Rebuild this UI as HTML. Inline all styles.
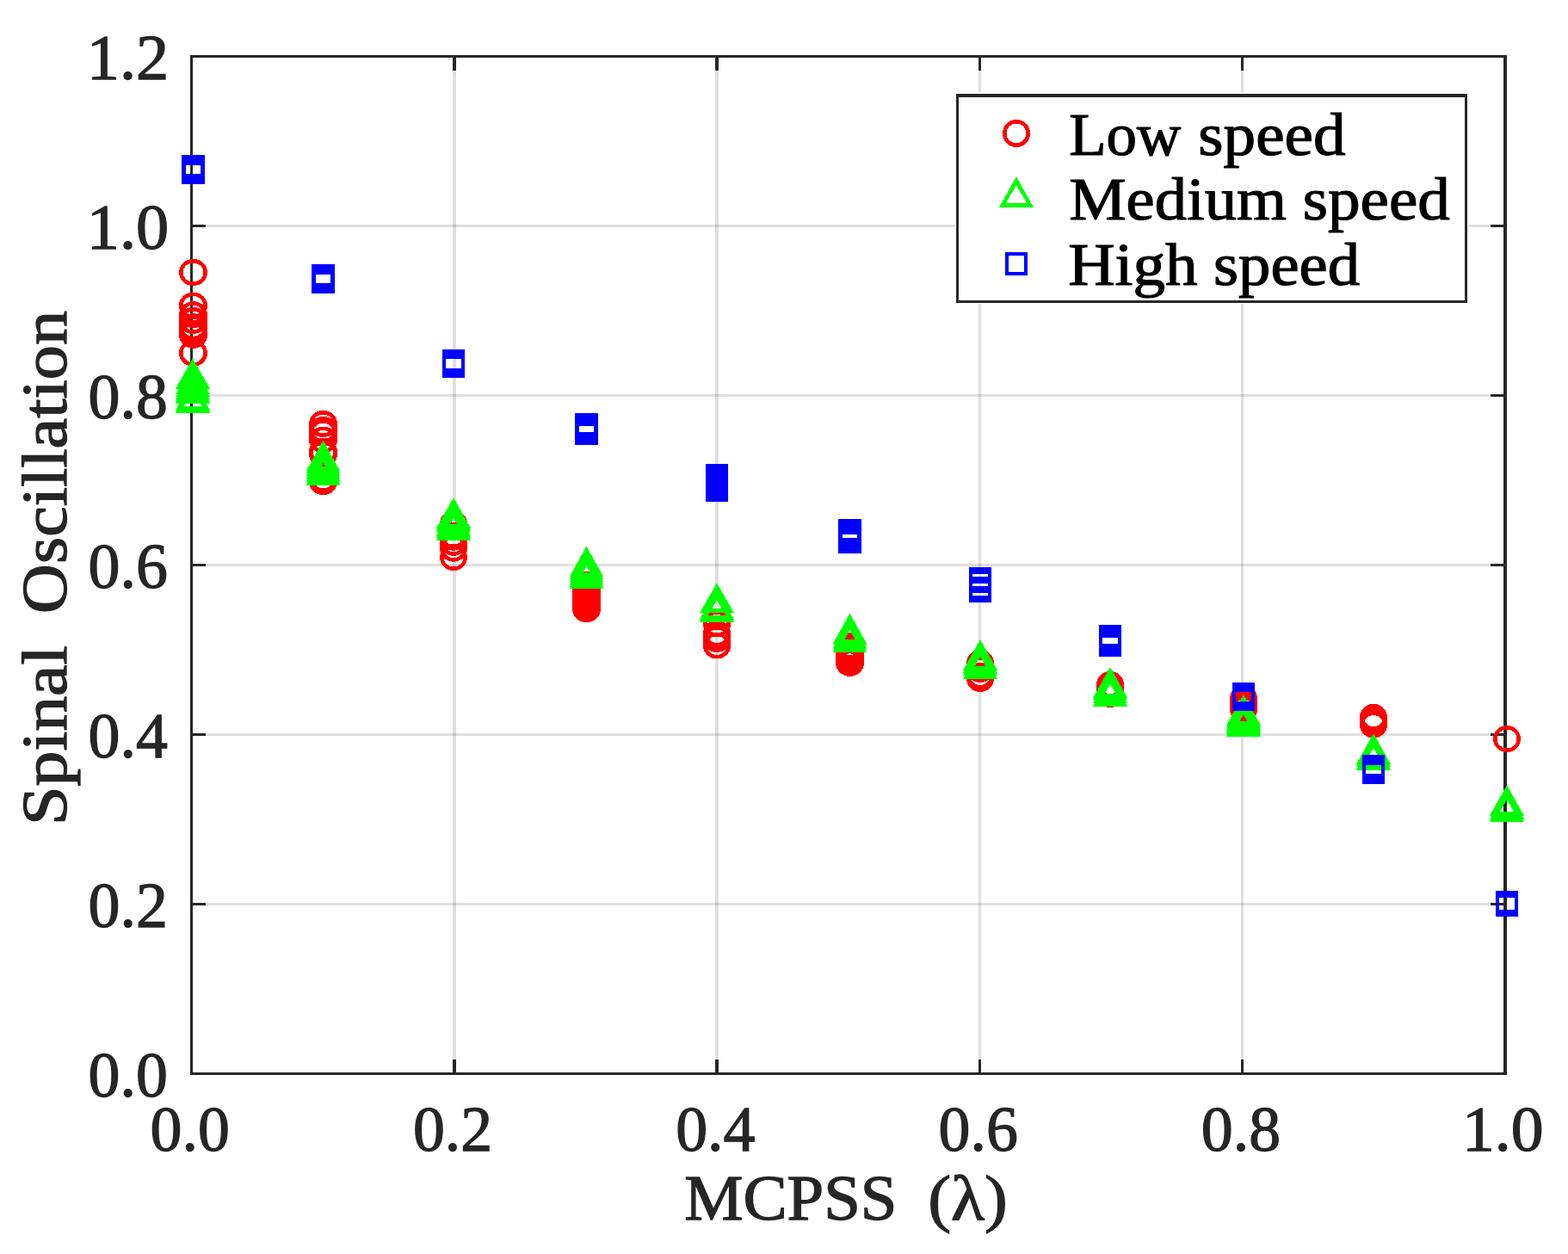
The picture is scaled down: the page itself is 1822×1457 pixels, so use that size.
<!DOCTYPE html>
<html lang="en"><head><meta charset="utf-8"><title>Spinal Oscillation vs MCPSS</title>
<style>html,body{margin:0;padding:0;background:#fff;}svg{display:block;}text{font-family:"Liberation Serif","DejaVu Serif",serif;}.tk{font-size:74.5px;fill:#262626;stroke:#262626;stroke-width:1.3px;}.lg{font-size:69.5px;fill:#000;stroke:#000;stroke-width:1.2px;}.lb{font-size:74px;fill:#262626;stroke:#262626;stroke-width:1.3px;}</style></head><body>
<svg width="1822" height="1457" viewBox="0 0 1822 1457">
<rect x="0" y="0" width="1822" height="1457" fill="#ffffff"/>
<g shape-rendering="crispEdges">
<g fill="#262626" fill-opacity="0.15">
<rect x="526" y="67" width="4" height="1179"/>
<rect x="831" y="67" width="4" height="1179"/>
<rect x="1137" y="67" width="3" height="1179"/>
<rect x="1442" y="67" width="3" height="1179"/>
<rect x="224" y="1049" width="1523" height="3"/>
<rect x="224" y="852" width="1523" height="3"/>
<rect x="224" y="655" width="1523" height="3"/>
<rect x="224" y="458" width="1523" height="3"/>
<rect x="224" y="261" width="1523" height="3"/>
</g>
<g fill="#262626">
<rect x="221" y="64" width="3" height="1185"/>
<rect x="1747" y="64" width="4" height="1185"/>
<rect x="221" y="64" width="1530" height="3"/>
<rect x="221" y="1246" width="1530" height="3"/>
<rect x="526" y="67" width="4" height="15"/>
<rect x="526" y="1231" width="4" height="15"/>
<rect x="831" y="67" width="4" height="15"/>
<rect x="831" y="1231" width="4" height="15"/>
<rect x="1137" y="67" width="3" height="15"/>
<rect x="1137" y="1231" width="3" height="15"/>
<rect x="1442" y="67" width="3" height="15"/>
<rect x="1442" y="1231" width="3" height="15"/>
<rect x="224" y="1049" width="15" height="3"/>
<rect x="1732" y="1049" width="15" height="3"/>
<rect x="224" y="852" width="15" height="3"/>
<rect x="1732" y="852" width="15" height="3"/>
<rect x="224" y="655" width="15" height="3"/>
<rect x="1732" y="655" width="15" height="3"/>
<rect x="224" y="458" width="15" height="3"/>
<rect x="1732" y="458" width="15" height="3"/>
<rect x="224" y="261" width="15" height="3"/>
<rect x="1732" y="261" width="15" height="3"/>
</g>
</g>
<g shape-rendering="crispEdges">
<g fill="none" stroke="#ff0000" stroke-width="4.6">
<ellipse cx="224.5" cy="316.5" rx="14.20" ry="13.2"/>
<ellipse cx="224.5" cy="355.0" rx="14.20" ry="13.2"/>
<ellipse cx="224.5" cy="365.7" rx="14.20" ry="13.2"/>
<ellipse cx="224.5" cy="372.5" rx="14.20" ry="13.2"/>
<ellipse cx="224.5" cy="379.7" rx="14.20" ry="13.2"/>
<ellipse cx="224.5" cy="382.0" rx="14.20" ry="13.2"/>
<ellipse cx="224.5" cy="387.2" rx="14.20" ry="13.2"/>
<ellipse cx="224.5" cy="388.5" rx="14.20" ry="13.2"/>
<ellipse cx="224.5" cy="389.3" rx="14.20" ry="13.2"/>
<ellipse cx="224.5" cy="410.3" rx="14.20" ry="13.2"/>
<ellipse cx="375.5" cy="492.5" rx="14.20" ry="13.2"/>
<ellipse cx="375.5" cy="499.5" rx="14.20" ry="13.2"/>
<ellipse cx="375.5" cy="502.7" rx="14.20" ry="13.2"/>
<ellipse cx="375.5" cy="511.0" rx="14.20" ry="13.2"/>
<ellipse cx="375.5" cy="524.5" rx="14.20" ry="13.2"/>
<ellipse cx="375.5" cy="527.6" rx="14.20" ry="13.2"/>
<ellipse cx="375.5" cy="556.3" rx="14.20" ry="13.2"/>
<ellipse cx="375.5" cy="559.5" rx="14.20" ry="13.2"/>
<ellipse cx="527.0" cy="608.5" rx="13.70" ry="13.2"/>
<ellipse cx="527.0" cy="612.0" rx="13.70" ry="13.2"/>
<ellipse cx="527.0" cy="622.0" rx="13.70" ry="13.2"/>
<ellipse cx="527.0" cy="624.2" rx="13.70" ry="13.2"/>
<ellipse cx="527.0" cy="630.3" rx="13.70" ry="13.2"/>
<ellipse cx="527.0" cy="637.2" rx="13.70" ry="13.2"/>
<ellipse cx="527.0" cy="647.5" rx="13.70" ry="13.2"/>
<ellipse cx="681.5" cy="679.2" rx="14.20" ry="13.2"/>
<ellipse cx="681.5" cy="686.4" rx="14.20" ry="13.2"/>
<ellipse cx="681.5" cy="691.0" rx="14.20" ry="13.2"/>
<ellipse cx="681.5" cy="695.5" rx="14.20" ry="13.2"/>
<ellipse cx="681.5" cy="700.0" rx="14.20" ry="13.2"/>
<ellipse cx="681.5" cy="704.0" rx="14.20" ry="13.2"/>
<ellipse cx="681.5" cy="707.7" rx="14.20" ry="13.2"/>
<ellipse cx="833.0" cy="724.8" rx="13.70" ry="13.2"/>
<ellipse cx="833.0" cy="736.1" rx="13.70" ry="13.2"/>
<ellipse cx="833.0" cy="739.0" rx="13.70" ry="13.2"/>
<ellipse cx="833.0" cy="742.4" rx="13.70" ry="13.2"/>
<ellipse cx="833.0" cy="750.0" rx="13.70" ry="13.2"/>
<ellipse cx="987.5" cy="750.1" rx="14.20" ry="13.2"/>
<ellipse cx="987.5" cy="754.0" rx="14.20" ry="13.2"/>
<ellipse cx="987.5" cy="758.0" rx="14.20" ry="13.2"/>
<ellipse cx="987.5" cy="762.0" rx="14.20" ry="13.2"/>
<ellipse cx="987.5" cy="766.0" rx="14.20" ry="13.2"/>
<ellipse cx="987.5" cy="770.3" rx="14.20" ry="13.2"/>
<ellipse cx="1139.0" cy="770.4" rx="13.70" ry="13.2"/>
<ellipse cx="1139.0" cy="777.6" rx="13.70" ry="13.2"/>
<ellipse cx="1139.0" cy="785.0" rx="13.70" ry="13.2"/>
<ellipse cx="1139.0" cy="788.5" rx="13.70" ry="13.2"/>
<ellipse cx="1290.0" cy="795.4" rx="13.70" ry="13.2"/>
<ellipse cx="1290.0" cy="800.0" rx="13.70" ry="13.2"/>
<ellipse cx="1290.0" cy="803.0" rx="13.70" ry="13.2"/>
<ellipse cx="1290.0" cy="806.5" rx="13.70" ry="13.2"/>
<ellipse cx="1445.0" cy="811.8" rx="13.70" ry="13.2"/>
<ellipse cx="1445.0" cy="816.0" rx="13.70" ry="13.2"/>
<ellipse cx="1445.0" cy="820.0" rx="13.70" ry="13.2"/>
<ellipse cx="1445.0" cy="824.0" rx="13.70" ry="13.2"/>
<ellipse cx="1596.0" cy="833.3" rx="13.70" ry="13.2"/>
<ellipse cx="1596.0" cy="836.0" rx="13.70" ry="13.2"/>
<ellipse cx="1596.0" cy="839.0" rx="13.70" ry="13.2"/>
<ellipse cx="1596.0" cy="842.0" rx="13.70" ry="13.2"/>
<ellipse cx="1751.0" cy="858.5" rx="13.70" ry="13.2"/>
</g>
<g fill="#00ff00" fill-rule="evenodd" stroke="none">
<path d="M204.0 451.5L244.0 451.5L224.0 416.4Z M211.8 446.5L236.2 446.5L224.0 426.7Z"/>
<path d="M204.0 458.3L244.0 458.3L224.0 422.3Z M211.8 453.3L236.2 453.3L224.0 432.6Z"/>
<path d="M204.0 461.3L244.0 461.3L224.0 425.3Z M211.8 456.3L236.2 456.3L224.0 435.6Z"/>
<path d="M204.0 464.4L244.0 464.4L224.0 428.4Z M211.8 459.4L236.2 459.4L224.0 438.7Z"/>
<path d="M204.0 466.5L244.0 466.5L224.0 430.5Z M211.8 461.5L236.2 461.5L224.0 440.8Z"/>
<path d="M204.0 468.8L244.0 468.8L224.0 432.8Z M211.8 463.8L236.2 463.8L224.0 443.1Z"/>
<path d="M204.0 476.8L244.0 476.8L224.0 440.8Z M211.8 471.8L236.2 471.8L224.0 451.1Z"/>
<path d="M204.0 478.5L244.0 478.5L224.0 442.5Z M211.8 473.5L236.2 473.5L224.0 452.8Z"/>
<path d="M204.0 480.0L244.0 480.0L224.0 444.0Z M211.8 475.0L236.2 475.0L224.0 454.3Z"/>
<path d="M356.0 547.0L395.0 547.0L375.5 511.8Z M363.8 542.0L387.2 542.0L375.5 521.3Z"/>
<path d="M356.0 550.0L395.0 550.0L375.5 514.8Z M363.8 545.0L387.2 545.0L375.5 524.3Z"/>
<path d="M356.0 553.0L395.0 553.0L375.5 517.8Z M363.8 548.0L387.2 548.0L375.5 527.3Z"/>
<path d="M356.0 556.0L395.0 556.0L375.5 520.8Z M363.8 551.0L387.2 551.0L375.5 530.3Z"/>
<path d="M356.0 559.0L395.0 559.0L375.5 523.8Z M363.8 554.0L387.2 554.0L375.5 533.3Z"/>
<path d="M356.0 562.0L395.0 562.0L375.5 526.8Z M363.8 557.0L387.2 557.0L375.5 536.3Z"/>
<path d="M356.0 564.0L395.0 564.0L375.5 528.8Z M363.8 559.0L387.2 559.0L375.5 538.3Z"/>
<path d="M507.0 613.9L547.0 613.9L527.0 577.9Z M514.8 608.9L539.2 608.9L527.0 588.2Z"/>
<path d="M507.0 616.7L547.0 616.7L527.0 580.7Z M514.8 611.7L539.2 611.7L527.0 591.0Z"/>
<path d="M507.0 619.4L547.0 619.4L527.0 583.4Z M514.8 614.4L539.2 614.4L527.0 593.7Z"/>
<path d="M507.0 622.8L547.0 622.8L527.0 586.8Z M514.8 617.8L539.2 617.8L527.0 597.1Z"/>
<path d="M507.0 624.9L547.0 624.9L527.0 588.9Z M514.8 619.9L539.2 619.9L527.0 599.2Z"/>
<path d="M507.0 628.0L547.0 628.0L527.0 592.0Z M514.8 623.0L539.2 623.0L527.0 602.3Z"/>
<path d="M662.0 669.8L701.0 669.8L681.5 634.6Z M669.8 664.8L693.2 664.8L681.5 644.1Z"/>
<path d="M662.0 673.0L701.0 673.0L681.5 637.8Z M669.8 668.0L693.2 668.0L681.5 647.3Z"/>
<path d="M662.0 676.0L701.0 676.0L681.5 640.8Z M669.8 671.0L693.2 671.0L681.5 650.3Z"/>
<path d="M662.0 679.0L701.0 679.0L681.5 643.8Z M669.8 674.0L693.2 674.0L681.5 653.3Z"/>
<path d="M662.0 682.0L701.0 682.0L681.5 646.8Z M669.8 677.0L693.2 677.0L681.5 656.3Z"/>
<path d="M662.0 683.8L701.0 683.8L681.5 648.6Z M669.8 678.8L693.2 678.8L681.5 658.1Z"/>
<path d="M813.0 712.3L853.0 712.3L833.0 677.3Z M820.8 707.3L845.2 707.3L833.0 687.6Z"/>
<path d="M813.0 720.0L853.0 720.0L833.0 684.0Z M820.8 715.0L845.2 715.0L833.0 694.3Z"/>
<path d="M813.0 723.0L853.0 723.0L833.0 687.0Z M820.8 718.0L845.2 718.0L833.0 697.3Z"/>
<path d="M968.0 747.7L1007.0 747.7L987.5 712.5Z M975.8 742.7L999.2 742.7L987.5 722.0Z"/>
<path d="M968.0 749.4L1007.0 749.4L987.5 714.2Z M975.8 744.4L999.2 744.4L987.5 723.7Z"/>
<path d="M968.0 752.8L1007.0 752.8L987.5 717.6Z M975.8 747.8L999.2 747.8L987.5 727.1Z"/>
<path d="M968.0 754.9L1007.0 754.9L987.5 719.7Z M975.8 749.9L999.2 749.9L987.5 729.2Z"/>
<path d="M968.0 758.0L1007.0 758.0L987.5 722.8Z M975.8 753.0L999.2 753.0L987.5 732.3Z"/>
<path d="M1119.0 778.9L1159.0 778.9L1139.0 742.9Z M1126.8 773.9L1151.2 773.9L1139.0 753.2Z"/>
<path d="M1119.0 781.5L1159.0 781.5L1139.0 745.5Z M1126.8 776.5L1151.2 776.5L1139.0 755.8Z"/>
<path d="M1119.0 785.0L1159.0 785.0L1139.0 749.0Z M1126.8 780.0L1151.2 780.0L1139.0 759.3Z"/>
<path d="M1119.0 788.9L1159.0 788.9L1139.0 752.9Z M1126.8 783.9L1151.2 783.9L1139.0 763.2Z"/>
<path d="M1270.0 810.9L1310.0 810.9L1290.0 774.9Z M1277.8 805.9L1302.2 805.9L1290.0 785.2Z"/>
<path d="M1270.0 813.0L1310.0 813.0L1290.0 777.0Z M1277.8 808.0L1302.2 808.0L1290.0 787.3Z"/>
<path d="M1270.0 817.0L1310.0 817.0L1290.0 781.0Z M1277.8 812.0L1302.2 812.0L1290.0 791.3Z"/>
<path d="M1270.0 820.9L1310.0 820.9L1290.0 784.9Z M1277.8 815.9L1302.2 815.9L1290.0 795.2Z"/>
<path d="M1425.0 842.9L1465.0 842.9L1445.0 806.9Z M1432.8 837.9L1457.2 837.9L1445.0 817.2Z"/>
<path d="M1425.0 845.0L1465.0 845.0L1445.0 809.0Z M1432.8 840.0L1457.2 840.0L1445.0 819.3Z"/>
<path d="M1425.0 847.5L1465.0 847.5L1445.0 811.5Z M1432.8 842.5L1457.2 842.5L1445.0 821.8Z"/>
<path d="M1425.0 849.5L1465.0 849.5L1445.0 813.5Z M1432.8 844.5L1457.2 844.5L1445.0 823.8Z"/>
<path d="M1425.0 851.7L1465.0 851.7L1445.0 815.7Z M1432.8 846.7L1457.2 846.7L1445.0 826.0Z"/>
<path d="M1425.0 853.7L1465.0 853.7L1445.0 817.7Z M1432.8 848.7L1457.2 848.7L1445.0 828.0Z"/>
<path d="M1425.0 855.9L1465.0 855.9L1445.0 819.9Z M1432.8 850.9L1457.2 850.9L1445.0 830.2Z"/>
<path d="M1576.0 888.0L1616.0 888.0L1596.0 852.0Z M1583.8 883.0L1608.2 883.0L1596.0 862.3Z"/>
<path d="M1576.0 891.0L1616.0 891.0L1596.0 855.0Z M1583.8 886.0L1608.2 886.0L1596.0 865.3Z"/>
<path d="M1576.0 894.9L1616.0 894.9L1596.0 858.9Z M1583.8 889.9L1608.2 889.9L1596.0 869.2Z"/>
<path d="M1731.0 948.0L1771.0 948.0L1751.0 912.0Z M1738.8 943.0L1763.2 943.0L1751.0 922.3Z"/>
<path d="M1731.0 952.0L1771.0 952.0L1751.0 916.0Z M1738.8 947.0L1763.2 947.0L1751.0 926.3Z"/>
<path d="M1731.0 955.0L1771.0 955.0L1751.0 919.0Z M1738.8 950.0L1763.2 950.0L1751.0 929.3Z"/>
</g>
<g fill="none" stroke="#0000ff" stroke-width="4">
<rect x="213.0" y="182.0" width="22" height="22"/>
<rect x="214.0" y="182.0" width="22" height="22"/>
<rect x="213.0" y="186.0" width="22" height="22"/>
<rect x="214.0" y="186.0" width="22" height="22"/>
<rect x="213.0" y="190.0" width="22" height="22"/>
<rect x="214.0" y="190.0" width="22" height="22"/>
<rect x="364.0" y="309.0" width="22" height="22"/>
<rect x="365.0" y="309.0" width="22" height="22"/>
<rect x="364.0" y="313.0" width="22" height="22"/>
<rect x="365.0" y="313.0" width="22" height="22"/>
<rect x="364.0" y="317.0" width="22" height="22"/>
<rect x="365.0" y="317.0" width="22" height="22"/>
<rect x="516.0" y="408.0" width="22" height="22"/>
<rect x="516.0" y="412.0" width="22" height="22"/>
<rect x="516.0" y="415.0" width="22" height="22"/>
<rect x="670.0" y="482.0" width="22" height="22"/>
<rect x="671.0" y="482.0" width="22" height="22"/>
<rect x="670.0" y="486.0" width="22" height="22"/>
<rect x="671.0" y="486.0" width="22" height="22"/>
<rect x="670.0" y="490.0" width="22" height="22"/>
<rect x="671.0" y="490.0" width="22" height="22"/>
<rect x="670.0" y="493.0" width="22" height="22"/>
<rect x="671.0" y="493.0" width="22" height="22"/>
<rect x="822.0" y="541.0" width="22" height="22"/>
<rect x="822.0" y="545.0" width="22" height="22"/>
<rect x="822.0" y="549.0" width="22" height="22"/>
<rect x="822.0" y="553.0" width="22" height="22"/>
<rect x="822.0" y="557.0" width="22" height="22"/>
<rect x="822.0" y="559.0" width="22" height="22"/>
<rect x="976.0" y="605.0" width="22" height="22"/>
<rect x="977.0" y="605.0" width="22" height="22"/>
<rect x="976.0" y="609.0" width="22" height="22"/>
<rect x="977.0" y="609.0" width="22" height="22"/>
<rect x="976.0" y="613.0" width="22" height="22"/>
<rect x="977.0" y="613.0" width="22" height="22"/>
<rect x="976.0" y="617.0" width="22" height="22"/>
<rect x="977.0" y="617.0" width="22" height="22"/>
<rect x="976.0" y="619.0" width="22" height="22"/>
<rect x="977.0" y="619.0" width="22" height="22"/>
<rect x="1128.0" y="661.0" width="22" height="22"/>
<rect x="1128.0" y="665.0" width="22" height="22"/>
<rect x="1128.0" y="672.0" width="22" height="22"/>
<rect x="1128.0" y="676.0" width="22" height="22"/>
<rect x="1279.0" y="728.0" width="22" height="22"/>
<rect x="1279.0" y="732.0" width="22" height="22"/>
<rect x="1279.0" y="736.0" width="22" height="22"/>
<rect x="1279.0" y="739.0" width="22" height="22"/>
<rect x="1434.0" y="795.0" width="22" height="22"/>
<rect x="1434.0" y="799.0" width="22" height="22"/>
<rect x="1434.0" y="802.0" width="22" height="22"/>
<rect x="1585.0" y="879.0" width="22" height="22"/>
<rect x="1585.0" y="883.0" width="22" height="22"/>
<rect x="1585.0" y="887.0" width="22" height="22"/>
<rect x="1740.0" y="1037.0" width="22" height="22"/>
<rect x="1740.0" y="1041.0" width="22" height="22"/>
</g>
</g>
<g shape-rendering="crispEdges"><rect x="1110" y="108" width="596" height="245" fill="#ffffff"/><rect x="1111" y="109" width="594" height="243" fill="#262626"/><rect x="1114" y="113" width="588" height="236" fill="#ffffff"/></g>
<g shape-rendering="crispEdges">
<circle cx="1181" cy="155" r="13.7" fill="none" stroke="#ff0000" stroke-width="4.6"/>
<g fill="#00ff00" fill-rule="evenodd"><path d="M1161.0 241.0L1201.0 241.0L1181.0 205.0Z M1168.8 236.0L1193.2 236.0L1181.0 215.3Z"/></g>
<rect x="1170" y="295" width="22" height="23" fill="none" stroke="#0000ff" stroke-width="4"/>
</g>
<text class="lg" y="180.0"><tspan x="1242.3" textLength="130.0" lengthAdjust="spacingAndGlyphs">Low</tspan><tspan> </tspan><tspan x="1392.3" textLength="171.2" lengthAdjust="spacingAndGlyphs">speed</tspan></text>
<text class="lg" y="255.4"><tspan x="1242.3" textLength="252.6" lengthAdjust="spacingAndGlyphs">Medium</tspan><tspan> </tspan><tspan x="1513.8" textLength="171.0" lengthAdjust="spacingAndGlyphs">speed</tspan></text>
<text class="lg" y="331.0"><tspan x="1241.3" textLength="150.2" lengthAdjust="spacingAndGlyphs">High</tspan><tspan> </tspan><tspan x="1410.0" textLength="170.0" lengthAdjust="spacingAndGlyphs">speed</tspan></text>
<text class="tk" x="102.6" y="1274.1" text-anchor="start" textLength="92.3" lengthAdjust="spacingAndGlyphs">0.0</text>
<text class="tk" x="102.6" y="1077.1" text-anchor="start" textLength="92.3" lengthAdjust="spacingAndGlyphs">0.2</text>
<text class="tk" x="102.6" y="880.1" text-anchor="start" textLength="92.3" lengthAdjust="spacingAndGlyphs">0.4</text>
<text class="tk" x="102.6" y="683.1" text-anchor="start" textLength="92.3" lengthAdjust="spacingAndGlyphs">0.6</text>
<text class="tk" x="102.6" y="486.1" text-anchor="start" textLength="92.3" lengthAdjust="spacingAndGlyphs">0.8</text>
<text class="tk" x="100.8" y="289.1" text-anchor="start" textLength="95.4" lengthAdjust="spacingAndGlyphs">1.0</text>
<text class="tk" x="100.8" y="92.1" text-anchor="start" textLength="95.4" lengthAdjust="spacingAndGlyphs">1.2</text>
<text class="tk" x="174.6" y="1337.2" text-anchor="start" textLength="92.3" lengthAdjust="spacingAndGlyphs">0.0</text>
<text class="tk" x="479.9" y="1337.2" text-anchor="start" textLength="92.3" lengthAdjust="spacingAndGlyphs">0.2</text>
<text class="tk" x="785.2" y="1337.2" text-anchor="start" textLength="92.3" lengthAdjust="spacingAndGlyphs">0.4</text>
<text class="tk" x="1090.5" y="1337.2" text-anchor="start" textLength="92.3" lengthAdjust="spacingAndGlyphs">0.6</text>
<text class="tk" x="1395.8" y="1337.2" text-anchor="start" textLength="92.3" lengthAdjust="spacingAndGlyphs">0.8</text>
<text class="tk" x="1699.0" y="1337.2" text-anchor="start" textLength="94.5" lengthAdjust="spacingAndGlyphs">1.0</text>
<text class="lb" y="1417.2"><tspan x="795.2" textLength="247.3" lengthAdjust="spacingAndGlyphs">MCPSS</tspan><tspan> </tspan><tspan x="1078.2" textLength="92.7" lengthAdjust="spacingAndGlyphs">(λ)</tspan></text>
<g transform="translate(77 954) rotate(-90)">
<text class="lb" y="0"><tspan x="-5" textLength="209.1" lengthAdjust="spacingAndGlyphs">Spinal</tspan><tspan> </tspan><tspan x="241" textLength="352" lengthAdjust="spacingAndGlyphs">Oscillation</tspan></text>
</g>
</svg></body></html>
